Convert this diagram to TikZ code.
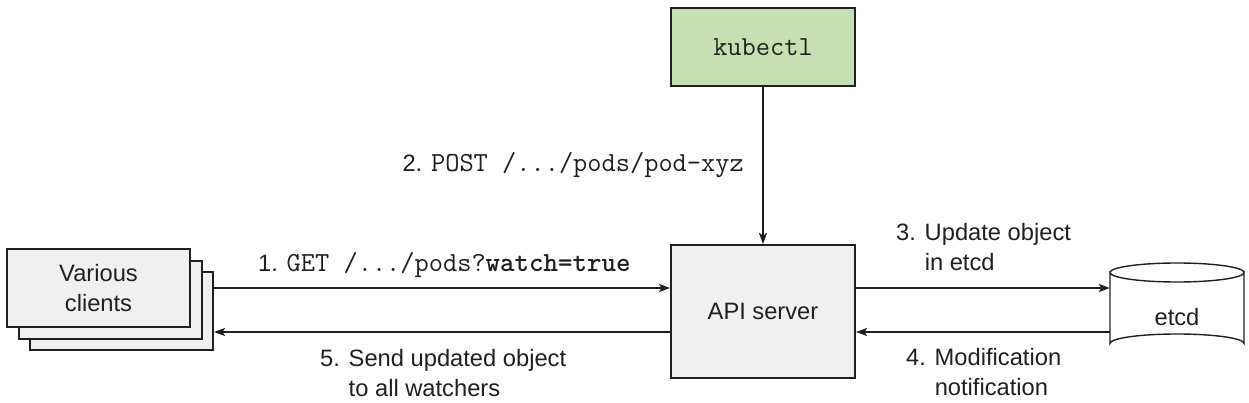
\documentclass[tikz,border=0pt]{standalone}
\usepackage{fontspec}
\setmainfont{Liberation Sans}
\usetikzlibrary{arrows.meta}
\definecolor{ink}{HTML}{231F20}
\definecolor{kgreen}{HTML}{C6E0B4}
\definecolor{boxgrey}{HTML}{F0F0F0}
\newcommand{\mono}{\ttfamily\fontsize{27.6}{30}\selectfont}
\begin{document}
\begin{tikzpicture}[x=1pt,y=-1pt,
  every node/.style={text=ink,font=\fontsize{23.7}{30}\selectfont},
  box/.style={draw=ink,line width=2pt,inner sep=0pt},
  lbl/.style={anchor=base west,inner sep=0pt,align=left},
  arr/.style={draw=ink,line width=1.8pt,-{Stealth[length=11pt,width=8pt,inset=2.5pt]}}]
\useasboundingbox (0,0) rectangle (1249,403);
% kubectl
\node[box,fill=kgreen,minimum width=184pt,minimum height=78pt] (kubectl) at (763,47) {\mono kubectl};
% API server
\node[box,fill=boxgrey,minimum width=184pt,minimum height=133pt] (api) at (763,311.5) {API server};
% clients stack
\node[box,fill=boxgrey,minimum width=183pt,minimum height=78pt] (clients3) at (121.5,311) {};
\node[box,fill=boxgrey,minimum width=183pt,minimum height=78pt] (clients2) at (110,299.5) {};
\node[box,fill=boxgrey,minimum width=183pt,minimum height=78pt,align=center] (clients) at (98.5,288) {Various\\clients};
% etcd cylinder
\coordinate (etcdc) at (1177,317.5);
\path[draw=ink,fill=white,line width=1.4pt]
  (1110,272.5) -- (1110,343.5) arc[start angle=180,end angle=360,x radius=67,y radius=9.5]
  -- (1244,272.5) arc[start angle=0,end angle=180,x radius=67,y radius=9.5] -- cycle;
\draw[ink,line width=1.4pt] (1110,272.5) arc[start angle=180,end angle=360,x radius=67,y radius=9.5];
\node[minimum width=134pt,minimum height=71pt,inner sep=0pt] (etcd) at (etcdc) {etcd};
% connectors
\draw[arr] (kubectl.south) -- (api.north);
\draw[arr] (clients3.east |- 0,288) -- (api.west |- 0,288);
\draw[arr] (api.west |- 0,332) -- (clients3.east |- 0,332);
\draw[arr] (api.east |- 0,288) -- (etcd.west |- 0,288);
\draw[arr] (etcd.west |- 0,332) -- (api.east |- 0,332);
% labels
\node[anchor=base east,inner sep=0pt] (lpost) at (744,172) {2. {\mono POST /.../pods/pod-xyz}};
\node[lbl] (lget) at (258,271) {1. {\mono GET /.../pods?\textbf{watch=true}}};
\node[lbl] (lsend) at (320,396) {5. Send updated object\\\hphantom{5. }to all watchers};
\node[lbl] (lupd) at (896,270) {3. Update object\\\hphantom{3. }in etcd};
\node[lbl] (lmod) at (906,395) {4. Modification\\\hphantom{4. }notification};
\end{tikzpicture}
\end{document}
